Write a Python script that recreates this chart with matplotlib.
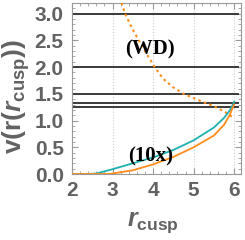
import numpy as np
import matplotlib
matplotlib.use('Agg')
from matplotlib import pyplot as plt

plt.rcParams['mathtext.fontset'] = 'custom'
plt.rcParams['mathtext.rm'] = 'Liberation Sans:bold'
plt.rcParams['mathtext.bf'] = 'Liberation Sans:bold'
plt.rcParams['mathtext.it'] = 'Liberation Sans:italic:bold'

GRAY = '#626262'
TEAL = '#1fb0b0'
ORANGE = '#ff8c1a'

# horizontal reference levels
levels = [3.0, 2.0, 1.5, 4.0 / 3.0, 1.25]

# dashed orange curve
dash_x = [3.22, 3.31, 3.5, 3.75, 4.04, 4.25, 4.5, 4.75, 5.0, 5.29, 5.5, 5.75, 5.88, 6.0]
dash_y = [3.2, 3.0, 2.7, 2.36, 2.0, 1.78, 1.62, 1.5, 1.42, 1.33, 1.27, 1.17, 1.11, 1.04]

# teal curve
teal_x = [2.0, 2.4, 2.6, 3.0, 3.5, 4.0, 4.5, 5.0, 5.5, 5.75, 5.9, 6.0]
teal_y = [0.0, 0.0, 0.01, 0.09, 0.2, 0.31, 0.45, 0.63, 0.87, 1.05, 1.2, 1.35]

# orange solid curve
orng_x = [2.0, 2.9, 3.0, 3.5, 4.0, 4.5, 5.0, 5.5, 5.75, 5.9, 5.95, 6.0]
orng_y = [0.0, 0.0, 0.01, 0.07, 0.18, 0.32, 0.5, 0.72, 0.92, 1.12, 1.22, 1.3]

fig = plt.figure(figsize=(2.45, 2.4), dpi=100)
ax = fig.add_axes([0.294, 0.275, 0.69, 0.7125])

for x in [3, 4, 5, 6]:
    ax.axvline(x, color='#cccccc', lw=0.8, ls=':', zorder=0)

for lv in levels:
    ax.plot([2.0, 6.1], [lv, lv], color='#3a3a3a', lw=1.4, zorder=2)

ax.plot(dash_x, dash_y, color=ORANGE, lw=1.5, ls=(0, (1.2, 1.6)), zorder=3)
ax.plot(teal_x, teal_y, color=TEAL, lw=1.3, zorder=3)
ax.plot(orng_x, orng_y, color=ORANGE, lw=1.3, zorder=3)

ax.text(3.92, 2.33, '(WD)', family='Liberation Serif', weight='bold',
        fontsize=15, ha='center', va='center', color='black', zorder=4)
ax.text(3.95, 0.33, '(10x)', family='Liberation Serif', weight='bold',
        fontsize=15, ha='center', va='center', color='black', zorder=4)

ax.set_xlim(2.0, 6.17)
ax.set_ylim(0.0, 3.2)
ax.set_xticks([2, 3, 4, 5, 6])
ax.set_yticks([0.0, 0.5, 1.0, 1.5, 2.0, 2.5, 3.0])
ax.set_yticklabels(['0.0', '0.5', '1.0', '1.5', '2.0', '2.5', '3.0'])
ax.set_xticks(np.arange(2.0, 6.2, 0.2), minor=True)
ax.set_yticks(np.arange(0.0, 3.2, 0.1), minor=True)
ax.tick_params(which='both', direction='in', top=True, right=True,
               color='#999999', labelcolor=GRAY)
ax.tick_params(which='major', length=4, width=0.8, labelsize=15)
ax.tick_params(axis='y', which='major', pad=6)
ax.tick_params(axis='x', which='major', pad=5)
ax.tick_params(which='minor', length=2, width=0.6)
for lab in ax.get_xticklabels() + ax.get_yticklabels():
    lab.set_family('Liberation Sans')
    lab.set_weight('bold')
for s in ax.spines.values():
    s.set_color('#999999')
    s.set_linewidth(0.8)

ax.set_xlabel(r'$\mathit{r}_{\mathbf{cusp}}$', fontsize=18, color=GRAY)
ax.xaxis.set_label_coords(0.48, -0.21)
ax.set_ylabel(r'$\mathbf{v(r(}\mathit{r}_{\mathbf{cusp}}\mathbf{))}$',
              fontsize=19, color=GRAY)
ax.yaxis.set_label_coords(-0.235, 0.45)

fig.savefig('out.png', dpi=100)
